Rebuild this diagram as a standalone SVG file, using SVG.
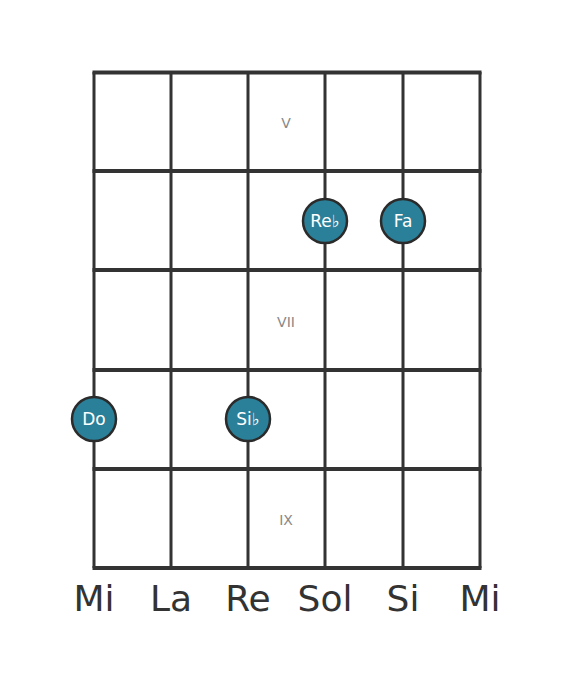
<svg xmlns="http://www.w3.org/2000/svg" width="568" height="682" viewBox="0 0 568 682">
<style>
.s{stroke:#333;stroke-width:3;fill:none}
.f{stroke:#333;stroke-width:4}
.n circle{fill:#2b8099;stroke:#2b2b2b;stroke-width:2.5}
.n text{fill:#fff;font-family:"DejaVu Sans",sans-serif;font-size:17px;text-anchor:middle}
.r{fill:#888;font-family:"DejaVu Sans",sans-serif;font-size:14px;text-anchor:middle}
.l{fill:#333;font-family:"DejaVu Sans",sans-serif;font-size:36px;text-anchor:middle}
</style>
<rect width="568" height="682" fill="#fff"/>
<g id="connectors">
<line class="s" x1="94" y1="72" x2="94" y2="568"/>
<line class="s" x1="171" y1="72" x2="171" y2="568"/>
<line class="s" x1="248" y1="72" x2="248" y2="568"/>
<line class="s" x1="325" y1="72" x2="325" y2="568"/>
<line class="s" x1="403" y1="72" x2="403" y2="568"/>
<line class="s" x1="480" y1="72" x2="480" y2="568"/>
<line class="f" x1="92.5" y1="72.5" x2="481.5" y2="72.5" stroke-width="5"/>
<line class="f" x1="92.5" y1="171" x2="481.5" y2="171"/>
<line class="f" x1="92.5" y1="270" x2="481.5" y2="270"/>
<line class="f" x1="92.5" y1="370" x2="481.5" y2="370"/>
<line class="f" x1="92.5" y1="469" x2="481.5" y2="469"/>
<line class="f" x1="92.5" y1="568" x2="481.5" y2="568"/>
</g>
<g id="frets">
<text class="r" x="286" y="128">V</text>
<text class="r" x="286" y="327">VII</text>
<text class="r" x="286" y="525">IX</text>
</g>
<g id="n-reb" class="n"><circle cx="325" cy="221" r="22"/><text x="325" y="227">Re♭</text></g>
<g id="n-fa" class="n"><circle cx="403" cy="221" r="22"/><text x="403" y="227">Fa</text></g>
<g id="n-do" class="n"><circle cx="94" cy="419" r="22"/><text x="94" y="425">Do</text></g>
<g id="n-sib" class="n"><circle cx="248" cy="419" r="22"/><text x="248" y="425">Si♭</text></g>
<g id="strings">
<text class="l" x="94" y="611">Mi</text>
<text class="l" x="171" y="611">La</text>
<text class="l" x="248" y="611">Re</text>
<text class="l" x="325" y="611">Sol</text>
<text class="l" x="403" y="611">Si</text>
<text class="l" x="480" y="611">Mi</text>
</g>
</svg>
